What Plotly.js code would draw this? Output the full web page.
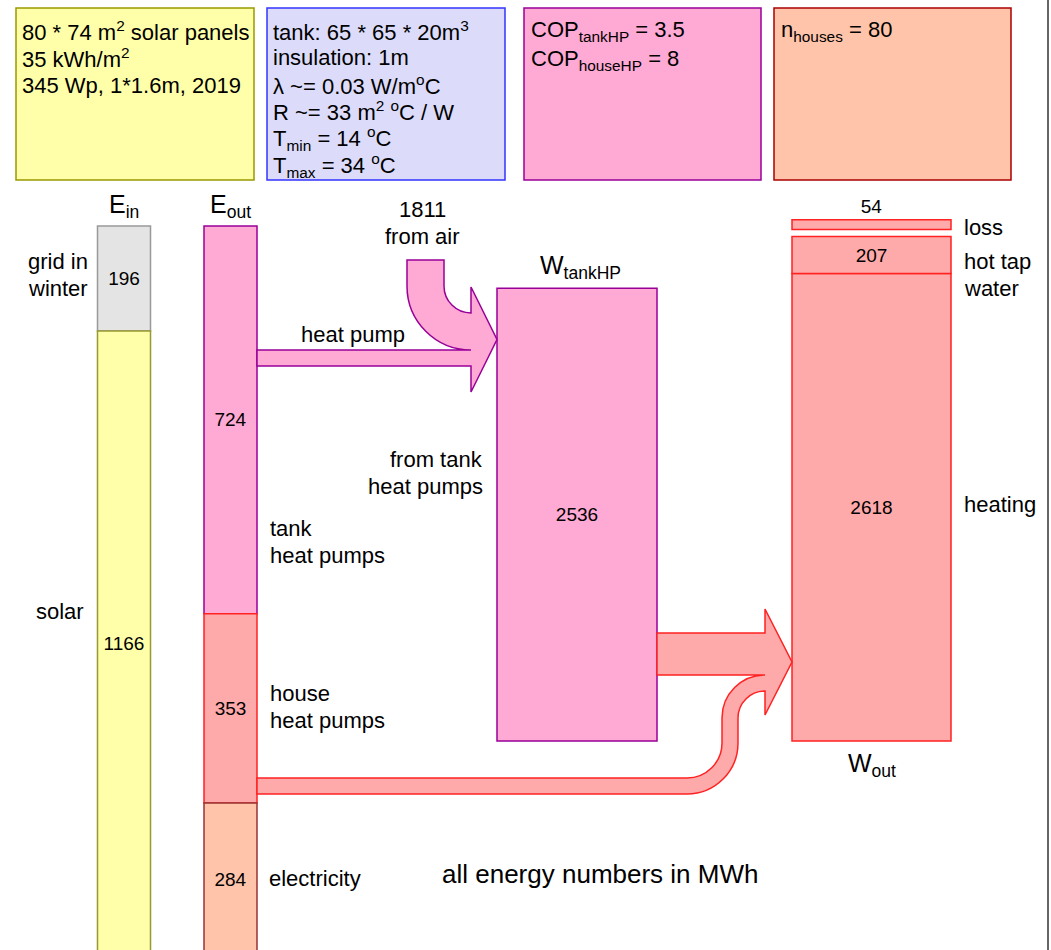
<!DOCTYPE html>
<html>
<head>
<meta charset="utf-8">
<script src="https://cdn.plot.ly/plotly-3.0.1.min.js"></script>
<style>body { margin: 0; } #chart { width: 1051px; height: 950px; }</style>
</head>
<body>
<div id="chart"></div>
<script>
// energy values, MWh
const eInLabels = [['grid in', 'winter'], ['solar']];
const eInValues = [196, 1166];
const eOutLabels = [['tank', 'heat pumps'], ['house', 'heat pumps'], ['electricity']];
const eOutValues = [724, 353, 284];
const tankHpValues = [2536];
const fromAirValues = [1811];
const wOutLabels = [['heating'], ['hot tap', 'water'], ['loss']];
const wOutValues = [2618, 207, 54];

const W = 1051, H = 950;
const FONT = 'Liberation Sans, Arial, sans-serif';
// px per MWh, heat side is drawn at a third of the electric scale
const ELEC_PX = 105 / 196;
const HEAT_PX = ELEC_PX / 3;
const ELEC_TOP = 226;
const HEAT_BASE = 741;
const LOSS_GAP = 40;

const cols = {
    ein: { x: 124, w: 53 },
    eout: { x: 230.5, w: 53 },
    tank: { x: 577, w: 160 },
    wout: { x: 871.5, w: 159 },
};
const left = c => c.x - c.w / 2;
const right = c => c.x + c.w / 2;

function stackBase(values) {
    let sum = 0;
    return values.map(v => { const b = sum; sum += v; return b; });
}

const barText = { family: FONT, size: 19, color: '#000' };

function barTrace(col, values, base, fills, lines, axis, textpos) {
    return {
        type: 'bar',
        x: values.map(() => col.x),
        y: values,
        base: base,
        width: col.w,
        yaxis: axis,
        marker: { color: fills, line: { color: lines, width: 1.5 } },
        text: values.map(String),
        textposition: textpos || 'inside',
        insidetextanchor: 'middle',
        textangle: 0,
        textfont: barText,
        hoverinfo: 'skip',
    };
}

const wOutBase = [0, wOutValues[0], wOutValues[0] + wOutValues[1] + LOSS_GAP];

const traces = [
    barTrace(cols.ein, eInValues, stackBase(eInValues), ['#e4e4e4', '#ffffaa'], ['#999999', '#999933'], 'y'),
    barTrace(cols.eout, eOutValues, stackBase(eOutValues), ['#ffaad4', '#ffaaaa', '#ffc4aa'], ['#990099', '#ff2222', '#993333'], 'y'),
    barTrace(cols.tank, tankHpValues, [0], ['#ffaad4'], ['#990099'], 'y2'),
    barTrace(cols.wout, wOutValues, wOutBase, ['#ffaaaa', '#ffaaaa', '#ffaaaa'], ['#ff2222', '#ff2222', '#ff2222'], 'y2',
        ['inside', 'inside', 'outside']),
    { type: 'scatter', x: [], y: [], yaxis: 'y3', hoverinfo: 'skip' },
];

// quarter arc as cubic bezier, angles in degrees, screen y down
function arcTo(cx, cy, r, a0, a1) {
    const k = 0.5523 * r, d = Math.sign(a1 - a0);
    const t0 = a0 * Math.PI / 180, t1 = a1 * Math.PI / 180;
    const p0 = [cx + r * Math.cos(t0), cy + r * Math.sin(t0)];
    const p1 = [cx + r * Math.cos(t1), cy + r * Math.sin(t1)];
    const c0 = [p0[0] - d * k * Math.sin(t0), p0[1] + d * k * Math.cos(t0)];
    const c1 = [p1[0] + d * k * Math.sin(t1), p1[1] - d * k * Math.cos(t1)];
    const f = p => p.map(v => v.toFixed(2)).join(',');
    return ` C${f(c0)} ${f(c1)} ${f(p1)}`;
}

// heat pump + air arrow into the tank heat pumps
const eo = right(cols.eout), tl = left(cols.tank);
const hx1 = tl - 26;
const hp = { y0: 350, y1: 366, airL: 407, airR: 444, airTop: 260 };
const ro1 = hx1 - hp.airL, ri1 = hx1 - hp.airR, cy1 = hp.y0 - ro1;
const mid1 = (cy1 + ri1 + hp.y1) / 2;
const pathHP = `M${eo},${hp.y0} L${hx1},${hp.y0}` + arcTo(hx1, cy1, ro1, 90, 180) +
    ` L${hp.airL},${hp.airTop} L${hp.airR},${hp.airTop} L${hp.airR},${cy1}` + arcTo(hx1, cy1, ri1, 180, 90) +
    ` L${hx1},${mid1 - 52.5} L${tl},${mid1} L${hx1},${mid1 + 52.5} L${hx1},${hp.y1} L${eo},${hp.y1} Z`;

// tank heat + house heat pumps into W_out
const tr = right(cols.tank), wl = left(cols.wout);
const hx2 = wl - 27;
const hh = { y0: 633, y1: 675, by0: 778, bw: 16, vx0: 722 };
const vx1 = hh.vx0 + hh.bw;
const ruo = hx2 - hh.vx0, rui = hx2 - vx1, ucy = hh.y1 + ruo;
const rli = 35, rlo = rli + hh.bw, lcx = hh.vx0 - rli, lcy = hh.by0 - rli;
const mid2 = (hh.y0 + hh.y1 + hh.bw) / 2;
const pathHeat = `M${tr},${hh.y0} L${hx2},${hh.y0} L${hx2},${mid2 - 53} L${wl},${mid2} L${hx2},${mid2 + 53}` +
    ` L${hx2},${hh.y1 + hh.bw}` + arcTo(hx2, ucy, rui, 270, 180) +
    ` L${vx1},${lcy}` + arcTo(lcx, lcy, rlo, 0, 90) +
    ` L${eo},${hh.by0 + hh.bw} L${eo},${hh.by0} L${lcx},${hh.by0}` + arcTo(lcx, lcy, rli, 90, 0) +
    ` L${hh.vx0},${ucy}` + arcTo(hx2, ucy, ruo, 180, 270) + ` L${tr},${hh.y1} Z`;

const infoBoxes = [
    { x0: 16, x1: 254, fill: '#ffffaa', line: '#999900' },
    { x0: 267, x1: 505, fill: '#dcdcfa', line: '#3333ff' },
    { x0: 524, x1: 761, fill: '#ffaad4', line: '#990099' },
    { x0: 774, x1: 1011, fill: '#ffc4aa', line: '#aa0000' },
];

const shapes = infoBoxes.map(b => ({
    type: 'rect', xref: 'x', yref: 'y3', x0: b.x0, x1: b.x1, y0: 8, y1: 180,
    fillcolor: b.fill, line: { color: b.line, width: 1.5 }, layer: 'below',
}));
shapes.push(
    { type: 'path', xref: 'x', yref: 'y3', path: pathHP, fillcolor: '#ffaad4', line: { color: '#990099', width: 1.5 } },
    { type: 'path', xref: 'x', yref: 'y3', path: pathHeat, fillcolor: '#ffaaaa', line: { color: '#ff2222', width: 1.5 } },
    { type: 'line', xref: 'x', yref: 'y3', x0: 1048, x1: 1048, y0: 0, y1: H, line: { color: '#666666', width: 2 } },
);

const annotations = [];
function label(lines, x, y, anchor, size, step) {
    const n = lines.length;
    lines.forEach((t, i) => {
        annotations.push({
            text: t, xref: 'x', yref: 'y3', x: x, y: y + (i - (n - 1) / 2) * (step || 26.5),
            xanchor: anchor, yanchor: 'middle', showarrow: false,
            font: { family: FONT, size: size || 22, color: '#000' },
        });
    });
}

label(['80 * 74 m<sup>2</sup> solar panels', '35 kWh/m<sup>2</sup>', '345 Wp, 1*1.6m, 2019'], 20, 58, 'left', 22, 27);
label(['tank: 65 * 65 * 20m<sup>3</sup>', 'insulation: 1m', 'λ ~= 0.03 W/m<sup>o</sup>C',
    'R ~= 33 m<sup>2</sup> <sup>o</sup>C / W', 'T<sub>min</sub> = 14 <sup>o</sup>C', 'T<sub>max</sub> = 34 <sup>o</sup>C'],
    271, 98, 'left', 22, 26.8);
label(['COP<sub>tankHP</sub> = 3.5', 'COP<sub>houseHP</sub> = 8'], 529, 45, 'left', 22, 29);
label(['n<sub>houses</sub> = 80'], 779, 31, 'left', 22);

label(['E<sub>in</sub>'], cols.ein.x, 206, 'center', 25);
label(['E<sub>out</sub>'], cols.eout.x, 206, 'center', 25);
label(['W<sub>tankHP</sub>'], cols.tank.x + 3, 267, 'center', 25);
label(['W<sub>out</sub>'], cols.wout.x, 765, 'center', 25);

label(eInLabels[0], left(cols.ein) - 8, 275, 'right');
label(eInLabels[1], left(cols.ein) - 12, 611, 'right');
label(eOutLabels[0], right(cols.eout) + 11, 542, 'left');
label(eOutLabels[1], right(cols.eout) + 11, 707, 'left');
label(eOutLabels[2], right(cols.eout) + 10, 878, 'left');
label(wOutLabels[2], right(cols.wout) + 11, 227, 'left');
label(wOutLabels[1], right(cols.wout) + 11, 275, 'left');
label(wOutLabels[0], right(cols.wout) + 11, 504, 'left');

label([String(fromAirValues[0]), 'from air'], 422, 223, 'center');
label(['heat pump'], 353, 334, 'center');
label(['from tank', 'heat pumps'], left(cols.tank) - 12, 473, 'right');
label(['all energy numbers in MWh'], 600, 874, 'center', 26);

const layout = {
    width: W,
    height: H,
    margin: { t: 0, l: 0, r: 0, b: 0 },
    paper_bgcolor: '#ffffff',
    plot_bgcolor: '#ffffff',
    showlegend: false,
    barmode: 'overlay',
    xaxis: { range: [0, W], visible: false, fixedrange: true },
    yaxis: { range: [(H - ELEC_TOP) / ELEC_PX, -ELEC_TOP / ELEC_PX], visible: false, fixedrange: true },
    yaxis2: { range: [-(H - HEAT_BASE) / HEAT_PX, HEAT_BASE / HEAT_PX], overlaying: 'y', visible: false, fixedrange: true },
    yaxis3: { range: [H, 0], overlaying: 'y', visible: false, fixedrange: true },
    shapes: shapes,
    annotations: annotations,
};

Plotly.newPlot('chart', traces, layout, { displayModeBar: false, staticPlot: true });
</script>
</body>
</html>
